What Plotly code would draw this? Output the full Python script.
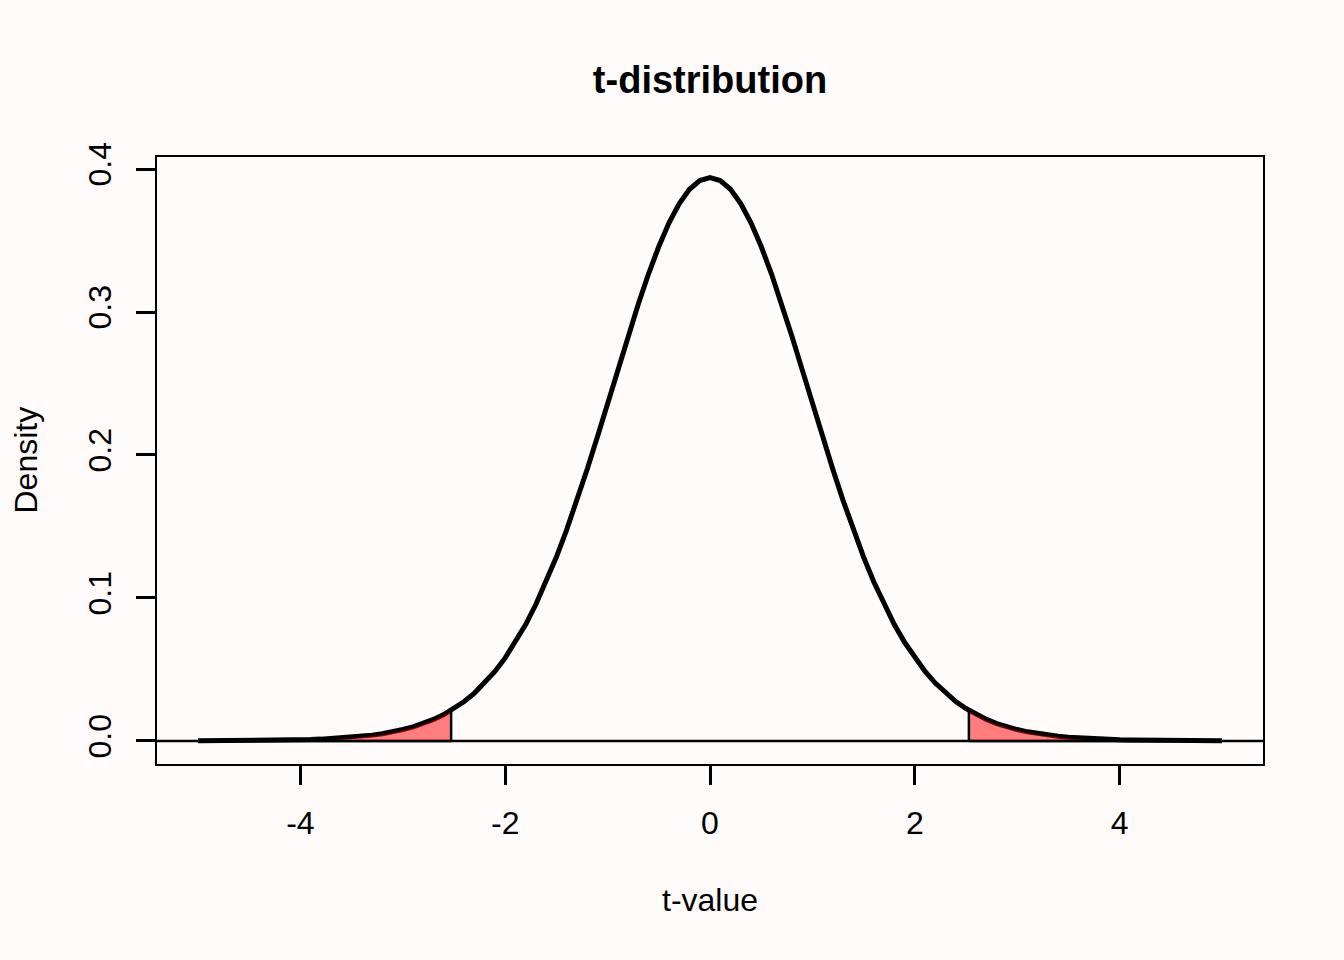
import plotly.graph_objs as go

# t values along the curve (right half, the left half is the mirror)
t_half = [0.0, 0.1, 0.2, 0.3, 0.4, 0.5, 0.6, 0.7, 0.8, 0.9,
          1.0, 1.1, 1.2, 1.3, 1.4, 1.5, 1.6, 1.7, 1.8, 1.9,
          2.0, 2.1, 2.2, 2.3, 2.4, 2.5, 2.6, 2.7, 2.8, 2.9,
          3.0, 3.1, 3.2, 3.3, 3.4, 3.5, 3.6, 3.7, 3.8, 3.9,
          4.0, 4.1, 4.2, 4.3, 4.4, 4.5, 4.6, 4.7, 4.8, 4.9, 5.0]
dens_half = [0.3940, 0.3919, 0.3858, 0.3758, 0.3624, 0.3458, 0.3267, 0.3056, 0.2830, 0.2597,
             0.2360, 0.2126, 0.1899, 0.1681, 0.1476, 0.1286, 0.1112, 0.0956, 0.0814, 0.0690,
             0.0581, 0.0486, 0.0405, 0.0335, 0.0276, 0.0227, 0.0185, 0.0151, 0.0122, 0.0099,
             0.0080, 0.0064, 0.0051, 0.0041, 0.0033, 0.0026, 0.0021, 0.0017, 0.0013, 0.0010,
             0.0008, 0.00065, 0.0005, 0.0004, 0.00032, 0.00025, 0.0002, 0.00016, 0.00013, 0.0001, 0.00008]

crit = 2.528
crit_dens = 0.0215

x_ticks = [-4, -2, 0, 2, 4]
y_ticks = [0.0, 0.1, 0.2, 0.3, 0.4]
y_ticklabels = ["0.0", "0.1", "0.2", "0.3", "0.4"]

t_vals = [-t for t in t_half[:0:-1]] + t_half
dens = dens_half[:0:-1] + dens_half

# tails beyond the critical value
right_x = [crit] + [t for t in t_half if t > crit]
right_y = [crit_dens] + [d for t, d in zip(t_half, dens_half) if t > crit]
left_x = [-t for t in right_x]
left_y = right_y

font = "Liberation Sans, Arial, sans-serif"
bg = "#FFFBFA"

curve = go.Scatter(
    x=t_vals,
    y=dens,
    mode="lines",
    line=dict(color="black", width=5),
    hoverinfo="skip"
)

def tail(xs, ys):
    return go.Scatter(
        x=[xs[0]] + xs + [xs[-1], xs[0]],
        y=[0] + ys + [0, 0],
        mode="lines",
        fill="toself",
        fillcolor="rgba(255,0,0,0.5)",
        line=dict(color="black", width=2.5),
        hoverinfo="skip"
    )

data = [curve, tail(left_x, left_y), tail(right_x, right_y)]

layout = go.Layout(
    width=1344,
    height=960,
    paper_bgcolor=bg,
    plot_bgcolor=bg,
    showlegend=False,
    margin=dict(l=157, r=81, t=157, b=196, pad=0),
    font=dict(family=font, size=32, color="black"),
    title=dict(
        text="<b>t-distribution</b>",
        font=dict(family=font, size=38, color="black"),
        x=(157 + 553) / 1344,
        xanchor="center",
        yref="container",
        y=1 - 80 / 960,
        yanchor="middle"
    ),
    xaxis=dict(
        range=[-5.4, 5.4],
        tickvals=x_ticks,
        ticktext=[str(v) if v >= 0 else "-" + str(-v) for v in x_ticks],
        ticks="outside",
        ticklen=19,
        tickwidth=2.5,
        tickcolor="black",
        ticklabelstandoff=11,
        showline=True,
        linecolor="black",
        linewidth=2,
        mirror=True,
        showgrid=False,
        zeroline=False
    ),
    yaxis=dict(
        range=[-0.0161, 0.4084],
        tickvals=y_ticks,
        ticktext=y_ticklabels,
        tickangle=-90,
        ticks="outside",
        ticklen=19,
        tickwidth=2.5,
        tickcolor="black",
        ticklabelstandoff=12,
        showline=True,
        linecolor="black",
        linewidth=2,
        mirror=True,
        showgrid=False,
        zeroline=False
    ),
    shapes=[
        dict(
            type="line",
            xref="paper",
            yref="y",
            x0=0,
            x1=1,
            y0=0,
            y1=0,
            line=dict(color="black", width=2.5),
            layer="below"
        )
    ],
    annotations=[
        dict(
            text="t-value",
            xref="paper",
            yref="paper",
            x=0.5,
            y=(764 - 900) / 607,
            xanchor="center",
            yanchor="middle",
            showarrow=False
        ),
        dict(
            text="Density",
            xref="paper",
            yref="paper",
            x=(25 - 157) / 1106,
            y=0.5,
            textangle=-90,
            xanchor="center",
            yanchor="middle",
            showarrow=False
        )
    ]
)

fig = go.Figure(data=data, layout=layout)
# page margin off so the figure sits at the window corner
fig.write_html("out.html",
               config={"displayModeBar": False},
               post_script="document.body.style.margin='0';document.body.style.background='%s';" % bg)
